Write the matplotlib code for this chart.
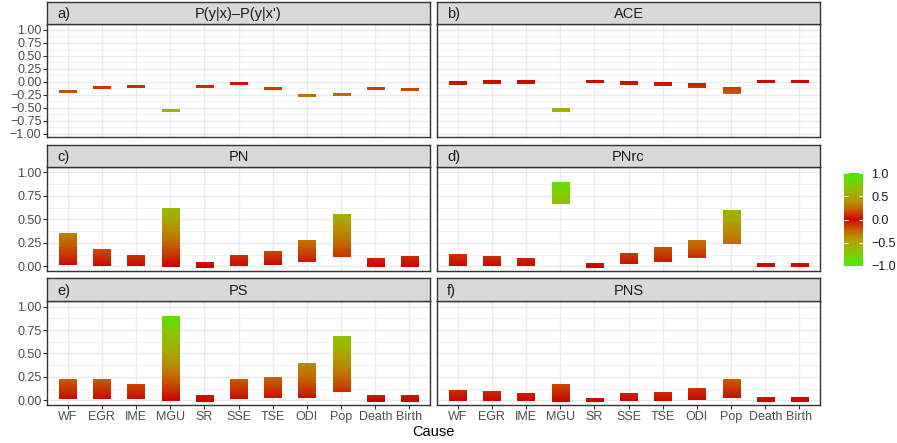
import matplotlib.pyplot as plt
import numpy as np
from matplotlib.cm import ScalarMappable
from matplotlib.colors import LinearSegmentedColormap, Normalize

plt.rcParams["font.family"] = ["Liberation Sans", "DejaVu Sans"]

causes = ["WF", "EGR", "IME", "MGU", "SR", "SSE", "TSE", "ODI", "Pop", "Death", "Birth"]

# lower / upper ends of each range
pyx_low = [-0.21, -0.14, -0.12, -0.58, -0.12, -0.06, -0.16, -0.29, -0.27, -0.16, -0.18]
pyx_high = [-0.17, -0.10, -0.08, -0.54, -0.08, -0.02, -0.12, -0.25, -0.23, -0.12, -0.14]
ace_low = [-0.06, -0.04, -0.04, -0.58, -0.02, -0.06, -0.08, -0.12, -0.24, -0.02, -0.02]
ace_high = [0.00, 0.02, 0.02, -0.52, 0.02, 0.00, -0.02, -0.04, -0.12, 0.02, 0.02]
pn_low = [0.01, 0.00, 0.00, -0.01, -0.02, 0.00, 0.01, 0.05, 0.10, -0.01, -0.01]
pn_high = [0.34, 0.18, 0.11, 0.61, 0.04, 0.11, 0.155, 0.28, 0.555, 0.08, 0.10]
pnrc_low = [0.00, 0.00, 0.00, 0.66, -0.02, 0.02, 0.045, 0.09, 0.24, -0.01, -0.01]
pnrc_high = [0.12, 0.10, 0.08, 0.885, 0.03, 0.13, 0.195, 0.28, 0.60, 0.03, 0.03]
ps_low = [0.01, 0.01, 0.01, -0.01, -0.015, 0.01, 0.03, 0.03, 0.09, -0.015, -0.015]
ps_high = [0.215, 0.215, 0.165, 0.89, 0.055, 0.215, 0.245, 0.395, 0.68, 0.055, 0.055]
pns_low = [-0.01, -0.01, -0.01, -0.015, -0.015, -0.005, -0.005, 0.00, 0.02, -0.015, -0.015]
pns_high = [0.105, 0.095, 0.07, 0.17, 0.025, 0.08, 0.09, 0.12, 0.215, 0.035, 0.035]

panels = [
    ("a)", "P(y|x)\u2013P(y|x')", pyx_low, pyx_high),
    ("b)", "ACE", ace_low, ace_high),
    ("c)", "PN", pn_low, pn_high),
    ("d)", "PNrc", pnrc_low, pnrc_high),
    ("e)", "PS", ps_low, ps_high),
    ("f)", "PNS", pns_low, pns_high),
]

# red at 0, green at +-1
half = ["#CC0500", "#C83A00", "#C26A00", "#B88C00", "#AAA800", "#98BA00", "#80CC00", "#62DE00", "#44EE00"]
stops = np.linspace(0, 1, len(half))
nodes = [(0.5 - s / 2, col) for s, col in zip(stops[::-1], half[::-1])]
nodes += [(0.5 + s / 2, col) for s, col in zip(stops[1:], half[1:])]
cmap = LinearSegmentedColormap.from_list("sym", nodes)
norm = Normalize(-1, 1)

W, H = 897, 443
fig = plt.figure(figsize=(W / 100, H / 100), dpi=100)

col_x = [(47, 430), (437, 820)]
# strip top, strip bottom / axes top, axes bottom
row_y = [(2, 24, 137), (145, 167, 271), (278, 301, 405)]
row_lims = [(-1.06, 1.11), (-0.05, 1.056), (-0.05, 1.06)]

border = "#333333"

for k, (tag, title, low, high) in enumerate(panels):
    r, c = divmod(k, 2)
    x0, x1 = col_x[c]
    s0, s1, a1 = row_y[r]
    ax = fig.add_axes([x0 / W, 1 - a1 / H, (x1 - x0) / W, (a1 - s1) / H])
    sax = fig.add_axes([x0 / W, 1 - s1 / H, (x1 - x0) / W, (s1 - s0) / H])

    # strip
    sax.set_facecolor("#D9D9D9")
    sax.set_xticks([])
    sax.set_yticks([])
    for sp in sax.spines.values():
        sp.set_color(border)
        sp.set_linewidth(1.0)
    sax.text(0.5, 0.45, title, ha="center", va="center", fontsize=10.5,
             color="#1A1A1A", transform=sax.transAxes)
    sax.text(10 / (x1 - x0), 0.45, tag, ha="left", va="center", fontsize=10.5,
             color="#1A1A1A", transform=sax.transAxes)

    # gradient bars
    for i, (lo, hi) in enumerate(zip(low, high)):
        vals = np.linspace(lo, hi, 80).reshape(-1, 1)
        ax.imshow(vals, extent=(i + 1 - 0.25, i + 1 + 0.25, lo, hi), origin="lower",
                  cmap=cmap, norm=norm, aspect="auto", interpolation="bilinear", zorder=3)

    ylo, yhi = row_lims[r]
    ax.set_xlim(0.4, 11.6)
    ax.set_ylim(ylo, yhi)
    if r == 0:
        major = np.arange(-1, 1.01, 0.25)
    else:
        major = np.arange(0, 1.01, 0.25)
    minor = major[:-1] + 0.125
    ax.set_yticks(major)
    ax.set_yticks(minor, minor=True)
    ax.set_xticks(range(1, 12))
    ax.grid(which="major", color="#EBEBEB", linewidth=1.0, zorder=0)
    ax.grid(which="minor", axis="y", color="#EBEBEB", linewidth=0.5, zorder=0)
    ax.set_axisbelow(True)
    for sp in ax.spines.values():
        sp.set_color(border)
        sp.set_linewidth(1.0)

    ax.tick_params(which="minor", length=0)
    ax.tick_params(which="major", length=3, width=0.8, color=border,
                   labelsize=9, labelcolor="#4D4D4D", pad=1)
    if c == 0:
        ax.set_yticklabels([f"{v:.2f}".replace("-", "\u2212") for v in major])
    else:
        ax.tick_params(axis="y", left=False, labelleft=False)
    if r == 2:
        ax.set_xticklabels(causes)
    else:
        ax.tick_params(axis="x", bottom=False, labelbottom=False)

fig.text(433.5 / W, 1 - 432 / H, "Cause", ha="center", va="center", fontsize=10.5,
         color="black")

# colour bar legend
cax = fig.add_axes([844 / W, 1 - 266 / H, 19 / W, 93 / H])
cb = fig.colorbar(ScalarMappable(norm=norm, cmap=cmap), cax=cax)
cb.outline.set_visible(False)
cb.set_ticks([-1.0, -0.5, 0.0, 0.5, 1.0])
cb.set_ticklabels(["\u22121.0", "\u22120.5", "0.0", "0.5", "1.0"])
cb.minorticks_off()
cax.yaxis.set_ticks_position("both")
cax.tick_params(direction="in", length=3, width=0.8, color="white",
                labelsize=9, labelcolor="#1A1A1A", pad=6, labelright=True,
                labelleft=False)

fig.savefig("out.png", dpi=100)
